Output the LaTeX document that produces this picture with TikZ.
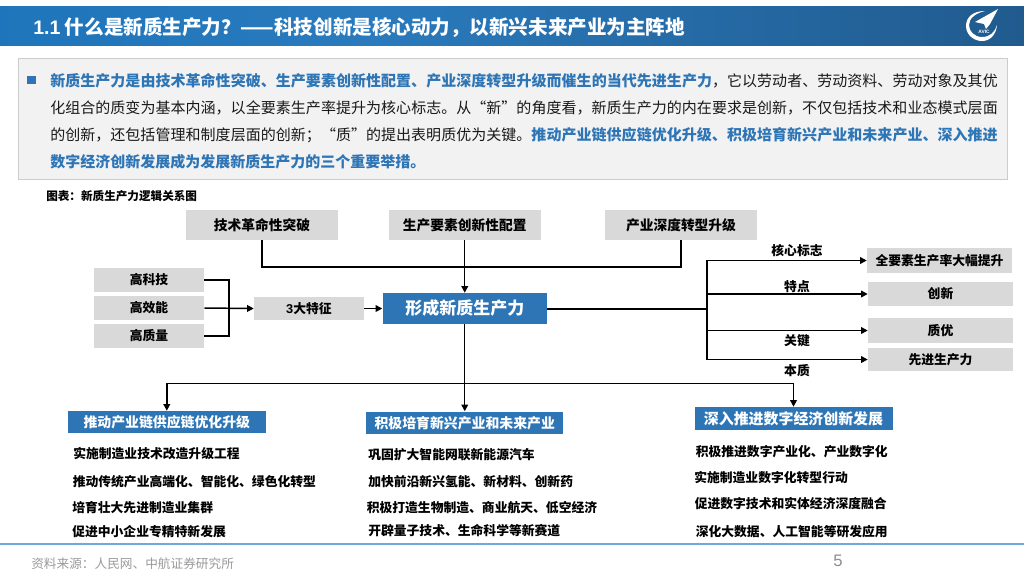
\documentclass[tikz,border=0pt]{standalone}
\usepackage{fontspec}
\usetikzlibrary{arrows.meta}
\setmainfont{Noto Sans CJK SC}
\newfontfamily\numfont{Liberation Sans}
\XeTeXlinebreaklocale "zh"
\XeTeXlinebreakskip=0pt plus 2pt minus 0.5pt
\newlength\px
\setlength\px{0.75pt}
\definecolor{bandleft}{HTML}{0F6FB8}
\definecolor{bandmid}{HTML}{2A7ABD}
\definecolor{bandright}{HTML}{1C4A75}
\definecolor{hiblue}{HTML}{2E75B6}
\definecolor{boxgray}{HTML}{D9D9D9}
\definecolor{panelgray}{HTML}{F2F2F2}
\definecolor{rulecolor}{HTML}{6FA8DC}
\pgfdeclarehorizontalshading{bandshade}{100bp}{color(0bp)=(bandleft); color(43bp)=(bandmid); color(92bp)=(bandright); color(100bp)=(bandright)}
\tikzset{
    graybox/.style={fill=boxgray, inner sep=0pt, font=\bfseries\fontsize{9.6}{11}\selectfont},
    topbox/.style={graybox, minimum width=152\px, minimum height=30\px, font=\bfseries\fontsize{10.3}{12}\selectfont},
    bluebox/.style={fill=hiblue, text=white, inner sep=0pt, font=\bfseries\fontsize{10.4}{12}\selectfont},
    tag/.style={inner sep=0pt, font=\bfseries\fontsize{9.6}{11}\selectfont},
    item/.style={inner sep=0pt, anchor=west, font=\bfseries\fontsize{9.6}{11}\selectfont},
    flow/.style={black, line width=1.1pt},
    flowto/.style={flow, -{Triangle[length=5pt, width=5pt]}},
}
\begin{document}
\begin{tikzpicture}[x=1\px, y=-1\px]
    \useasboundingbox (0, 0) rectangle (1024, 576);
    % header
    \shade[shading=bandshade] (0, 6) rectangle (1024, 45);
    \node[anchor=west, inner sep=0pt, text=white, font=\bfseries\fontsize{14.66}{18}\selectfont] (title) at (33, 28) {{\numfont 1.1} 什么是新质生产力？——科技创新是核心动力，以新兴未来产业为主阵地};
    \fill[white] (985, 11) .. controls (972, 11) and (966, 18) .. (966, 26) .. controls (966, 35) and (974, 41) .. (982, 41) .. controls (990, 41) and (996, 35) .. (997, 25) .. controls (995, 32) and (990, 37) .. (982, 37) .. controls (974, 37) and (969, 31) .. (969, 25) .. controls (969, 18) and (976, 13) .. (985, 11) -- cycle;
    \fill[white] (998, 9) -- (975, 22) -- (984, 24) -- (986, 29) -- (990, 24) -- cycle;
    \node[inner sep=0pt, text=white, font=\bfseries\fontsize{3.6}{4}\selectfont] (avic) at (984, 32) {\numfont AVIC};
    % summary panel
    \draw[fill=panelgray, draw=black!20] (18, 58.5) rectangle (1007, 179);
    \fill[hiblue] (27, 76) rectangle (36, 84);
    \node[anchor=north west, inner sep=0pt, text width=948\px, text=black!90, font=\fontsize{11.25}{20.25}\selectfont] (summary) at (50, 73) {\textcolor{hiblue}{\textbf{新质生产力是由技术革命性突破、生产要素创新性配置、产业深度转型升级而催生的当代先进生产力}}，它以劳动者、劳动资料、劳动对象及其优\linebreak 化组合的质变为基本内涵，以全要素生产率提升为核心标志。从“新”的角度看，新质生产力的内在要求是创新，不仅包括技术和业态模式层面\linebreak 的创新，还包括管理和制度层面的创新；“质”的提出表明质优为关键。\textcolor{hiblue}{\textbf{推动产业链供应链优化升级、积极培育新兴产业和未来产业、深入推进\linebreak 数字经济创新发展成为发展新质生产力的三个重要举措。}}};
    \node[anchor=west, inner sep=0pt, font=\bfseries\fontsize{8.7}{10}\selectfont] (caption) at (46, 196) {图表：新质生产力逻辑关系图};
    % upper row
    \node[topbox] (tech) at (262, 225) {技术革命性突破};
    \node[topbox] (factor) at (464.75, 225) {生产要素创新性配置};
    \node[topbox] (deep) at (681, 225) {产业深度转型升级};
    % centre
    \node[bluebox, minimum width=164.5\px, minimum height=31\px, font=\bfseries\fontsize{12.75}{15}\selectfont] (form) at (464.75, 308.5) {形成新质生产力};
    \node[graybox, minimum width=110\px, minimum height=24\px] (hightech) at (149, 280) {高科技};
    \node[graybox, minimum width=110\px, minimum height=24\px] (higheff) at (149, 308) {高效能};
    \node[graybox, minimum width=110\px, minimum height=24\px] (highqual) at (149, 336) {高质量};
    \node[graybox, minimum width=110\px, minimum height=23\px] (three) at (309, 308.5) {\numfont\textbf{3}\rmfamily\bfseries 大特征};
    % right column
    \node[graybox, minimum width=145\px, minimum height=25\px] (core) at (939.5, 260.5) {全要素生产率大幅提升};
    \node[graybox, minimum width=145\px, minimum height=24\px] (innov) at (940.5, 294) {创新};
    \node[graybox, minimum width=145\px, minimum height=25\px] (qual) at (940.5, 330.5) {质优};
    \node[graybox, minimum width=145\px, minimum height=23\px] (adv) at (940.5, 359.5) {先进生产力};
    \node[tag] (coretag) at (797, 251) {核心标志};
    \node[tag] (innovtag) at (797, 287) {特点};
    \node[tag] (qualtag) at (797, 341) {关键};
    \node[tag] (advtag) at (797, 371) {本质};
    % lower row
    \node[bluebox, minimum width=197.5\px, minimum height=22\px] (push) at (166.8, 422) {推动产业链供应链优化升级};
    \node[bluebox, minimum width=197\px, minimum height=22.5\px] (grow) at (464.75, 422.75) {积极培育新兴产业和未来产业};
    \node[bluebox, minimum width=198\px, minimum height=23\px, font=\bfseries\fontsize{11.2}{13}\selectfont] (digi) at (793.5, 418.5) {深入推进数字经济创新发展};
    \node[item] (p1) at (73, 454) {实施制造业技术改造升级工程};
    \node[item] (p2) at (72.5, 482) {推动传统产业高端化、智能化、绿色化转型};
    \node[item] (p3) at (72, 508) {培育壮大先进制造业集群};
    \node[item] (p4) at (72, 532) {促进中小企业专精特新发展};
    \node[item] (g1) at (368, 455) {巩固扩大智能网联新能源汽车};
    \node[item] (g2) at (368, 482) {加快前沿新兴氢能、新材料、创新药};
    \node[item] (g3) at (366.5, 508) {积极打造生物制造、商业航天、低空经济};
    \node[item] (g4) at (368, 531) {开辟量子技术、生命科学等新赛道};
    \node[item] (d1) at (695.5, 452) {积极推进数字产业化、产业数字化};
    \node[item] (d2) at (694, 478) {实施制造业数字化转型行动};
    \node[item] (d3) at (694.5, 504) {促进数字技术和实体经济深度融合};
    \node[item] (d4) at (695.5, 532) {深化大数据、人工智能等研发应用};
    % junctions
    \coordinate (topbus) at (464.75, 267);
    \coordinate (bracket) at (229, 308);
    \coordinate (fork) at (707, 308.5);
    \coordinate (lowbus) at (464.75, 383.5);
    % connectors
    \draw[flow] (tech.south) |- (topbus) -| (deep.south);
    \draw[flowto] (factor.south) -- (form.north);
    \draw[flow] (hightech.east) -| (bracket);
    \draw[flow] (highqual.east) -| (bracket);
    \draw[flowto] (higheff.east) -- (three.west);
    \draw[flowto] (three.east) -- (form.west);
    \draw[flow, line width=1.5pt] (form.east) -- (fork);
    \draw[flowto] (fork) |- (core.west);
    \draw[flowto] (fork) |- (innov.west);
    \draw[flowto] (fork) |- (qual.west);
    \draw[flowto] (fork) |- (adv.west);
    \draw[flowto] (form.south) -- (grow.north);
    \draw[flowto] (lowbus) -| (push.north);
    \draw[flowto] (lowbus) -| (digi.north);
    % footer
    \draw[rulecolor, line width=0.9pt] (0, 544) -- (1024, 544);
    \node[anchor=west, inner sep=0pt, text=black!40, font=\fontsize{9.5}{11}\selectfont] (source) at (31, 564) {资料来源：人民网、中航证券研究所};
    \node[inner sep=0pt, text=black!45, font=\numfont\fontsize{12.5}{14}\selectfont] (page) at (838, 561) {5};
\end{tikzpicture}
\end{document}
